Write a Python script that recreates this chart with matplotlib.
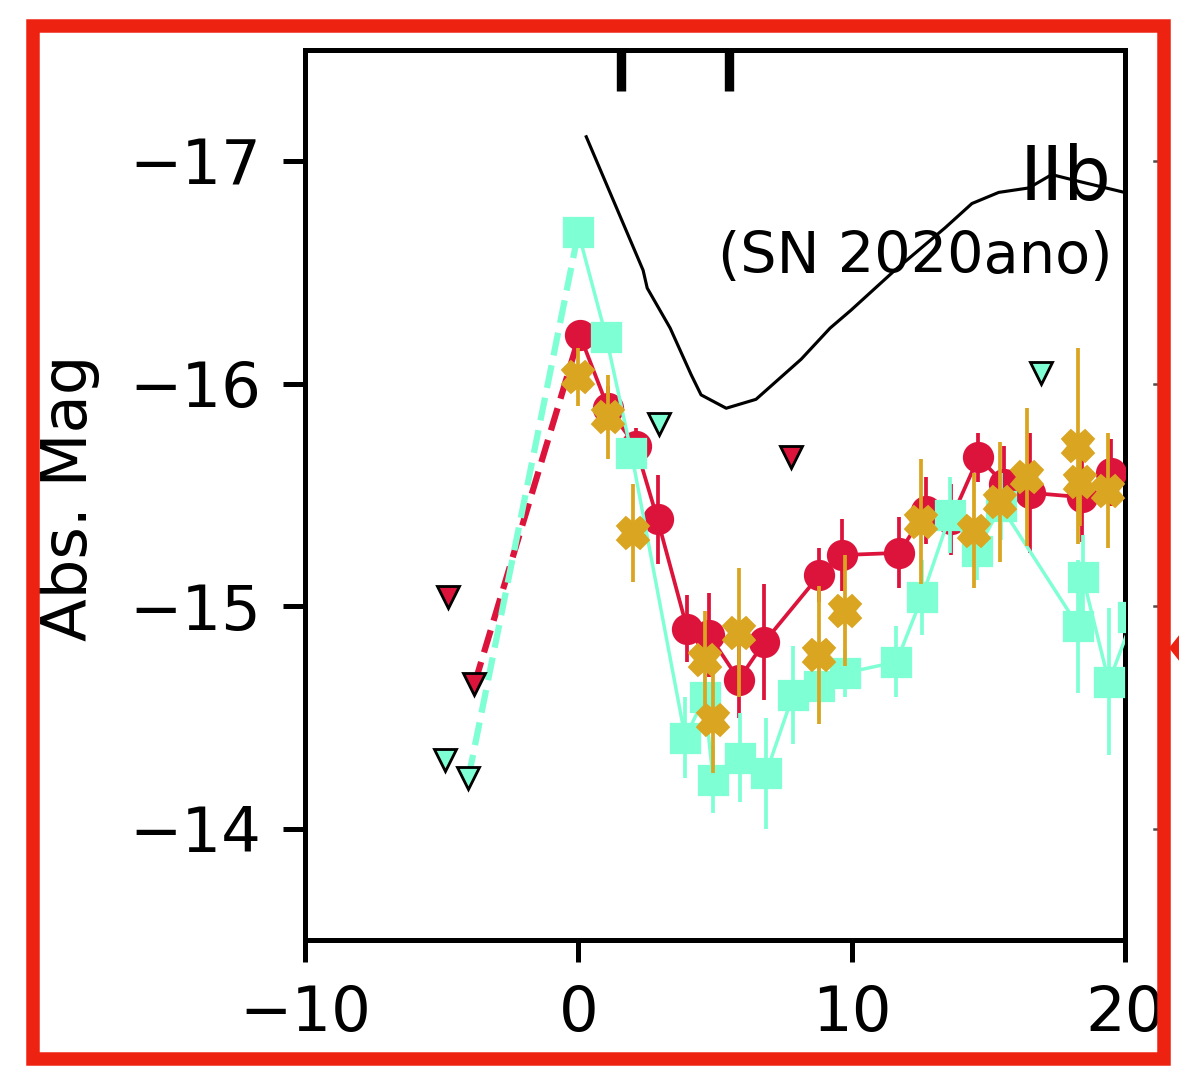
import matplotlib
matplotlib.use('Agg')
import matplotlib.pyplot as plt
from matplotlib.lines import Line2D
from matplotlib.patches import Rectangle, Polygon
from matplotlib.transforms import blended_transform_factory

DPI = 450
W_PX, H_PX = 1179, 1068

# r-band detections (phase in days, absolute mag)
phase_r = [0.05, 1.09, 2.10, 2.90, 3.98, 4.79, 5.87, 6.81, 8.82, 9.64,
           11.74, 12.72, 13.63, 14.64, 15.58, 16.53, 18.44, 19.48]
mag_r = [-16.22, -15.89, -15.72, -15.39, -14.90, -14.87, -14.67, -14.84, -15.14, -15.23,
         -15.24, -15.43, -15.39, -15.67, -15.55, -15.51, -15.49, -15.60]
err_r = [0.05, 0.10, 0.08, 0.20, 0.15, 0.19, 0.17, 0.26, 0.12, 0.16,
         0.16, 0.15, 0.16, 0.11, 0.17, 0.27, 0.20, 0.15]

# g-band detections
phase_g = [0.0, 1.02, 1.94, 3.91, 4.62, 4.93, 5.90, 6.87, 7.85, 8.80,
           9.77, 11.64, 12.57, 13.60, 14.58, 15.46, 18.29, 18.46, 19.41, 20.3]
mag_g = [-16.68, -16.21, -15.69, -14.41, -14.59, -14.22, -14.32, -14.25, -14.60, -14.64,
         -14.70, -14.75, -15.04, -15.41, -15.25, -15.45, -14.91, -15.13, -14.66, -14.95]
err_g = [0.04, 0.05, 0.05, 0.18, 0.10, 0.15, 0.20, 0.25, 0.22, 0.15,
         0.11, 0.16, 0.17, 0.17, 0.13, 0.15, 0.30, 0.19, 0.33, 0.30]

# o-band detections (no connecting line)
phase_o = [-0.01, 1.09, 2.00, 4.62, 4.92, 5.87, 8.80, 9.74, 12.54, 14.46,
           15.41, 16.43, 18.29, 18.34, 19.37]
mag_o = [-16.03, -15.85, -15.33, -14.76, -14.49, -14.88, -14.78, -14.98, -15.38, -15.34,
         -15.47, -15.58, -15.72, -15.56, -15.52]
err_o = [0.13, 0.19, 0.22, 0.22, 0.24, 0.29, 0.31, 0.25, 0.28, 0.26,
         0.27, 0.31, 0.44, 0.20, 0.26]

# upper limits
lim_r_phase = [-4.75, -3.80, 7.78]
lim_r_mag = [-15.04, -14.65, -15.67]
lim_g_phase = [-4.86, -4.02, 2.96, 16.92]
lim_g_mag = [-14.31, -14.23, -15.82, -16.05]

# comparison template, SN 2020ano
tmpl_phase = [0.29, 2.37, 2.52, 3.36, 4.13, 4.49, 5.41, 6.50, 8.15, 9.21, 9.97,
              11.58, 13.41, 14.40, 15.38, 16.48, 17.32, 18.30, 19.98]
tmpl_mag = [-17.11, -16.51, -16.43, -16.25, -16.04, -15.95, -15.89, -15.93, -16.11, -16.25, -16.33,
            -16.51, -16.70, -16.81, -16.86, -16.88, -16.94, -16.91, -16.86]

# epochs of spectra
spec_phase = [1.56, 5.53]

C_R = 'crimson'
C_G = 'aquamarine'
C_O = 'goldenrod'
C_FRAME = '#ee2211'

fig = plt.figure(figsize=(W_PX / DPI, H_PX / DPI), dpi=DPI)
ax = fig.add_axes([305 / W_PX, 1 - 940 / H_PX, 820 / W_PX, 890 / H_PX])

ax.plot(tmpl_phase, tmpl_mag, color='k', lw=0.5, zorder=1)

# dashed rise from the last non-detection to first detection
ax.plot([lim_r_phase[1], phase_r[0]], [lim_r_mag[1], mag_r[0]], '--', color=C_R, lw=1.0, zorder=2)
ax.plot([lim_g_phase[1], phase_g[0]], [lim_g_mag[1], mag_g[0]], '--', color=C_G, lw=1.0, zorder=2)

ax.errorbar(phase_r, mag_r, yerr=err_r, fmt='o-', color=C_R, ms=4, lw=0.6,
            elinewidth=0.6, capsize=0, zorder=3)
ax.errorbar(phase_g, mag_g, yerr=err_g, fmt='s-', color=C_G, ms=4, lw=0.55,
            elinewidth=0.6, capsize=0, zorder=4)
ax.errorbar(phase_o, mag_o, yerr=err_o, fmt='X', color=C_O, ms=4.2,
            elinewidth=0.6, capsize=0, zorder=5)

ax.plot(lim_r_phase, lim_r_mag, 'v', color=C_R, mec='k', mew=0.45, ms=3.6, ls='none', zorder=6)
ax.plot(lim_g_phase, lim_g_mag, 'v', color=C_G, mec='k', mew=0.45, ms=3.6, ls='none', zorder=6)

ax.vlines(spec_phase, 0.954, 1.0, transform=ax.get_xaxis_transform(), color='k', lw=1.5)

ax.set_xlim(-10, 20)
ax.set_ylim(-13.5, -17.5)
ax.set_xticks([-10, 0, 10, 20])
ax.set_yticks([-17, -16, -15, -14])
ax.tick_params(labelsize=10)
ax.set_ylabel('Abs. Mag', fontsize=10)
ax.yaxis.set_label_coords(-0.25, 0.4966)

ax.text(0.984, 0.831, 'IIb', fontsize=12, ha='right', va='baseline', transform=ax.transAxes)
ax.text(0.985, 0.749, '(SN 2020ano)', fontsize=9.2, ha='right', va='baseline', transform=ax.transAxes)

# ticks of the neighbouring panel peeking out at the right edge
nb = blended_transform_factory(fig.transFigure, ax.transData)
for yt in [-17, -16, -15, -14]:
    fig.add_artist(Line2D([1154 / W_PX, 1158 / W_PX], [yt, yt], transform=nb, color='0.3', lw=0.4))

# red highlight frame and arrow
fig.add_artist(Rectangle((32.5 / W_PX, 1 - 1058.5 / H_PX), 1131 / W_PX, 1032.5 / H_PX,
                         transform=fig.transFigure, fill=False, ec=C_FRAME, lw=2.16, zorder=10))
arrow_px = [(1169, 648), (1180, 634), (1180, 662)]
fig.add_artist(Polygon([(x / W_PX, 1 - y / H_PX) for x, y in arrow_px], closed=True,
                       transform=fig.transFigure, color=C_FRAME, lw=0, zorder=10))

fig.savefig('out.png', dpi=DPI)
